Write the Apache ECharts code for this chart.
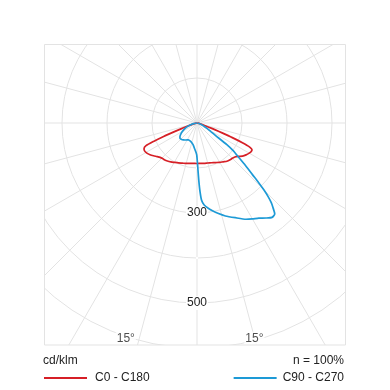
<!DOCTYPE html>
<html><head><meta charset="utf-8">
<script src="https://cdn.jsdelivr.net/npm/echarts@6/dist/echarts.min.js"></script>
<style>html,body{margin:0;padding:0;background:#fff}#c{width:390px;height:390px}</style>
</head><body><div id="c"></div>
<script>
// Luminous intensity distribution, gamma angle from nadir (negative = left half)
const redAngles = [-90,-85,-80,-76,-73,-71,-70,-69,-68,-67,-66,-64,-62,-59,-56,-53,-50,-47,-44,-41,-38,-34,-30,-25,-20,-15,-10,-5,0,5,10,15,20,25,30,34,38,42,45,48,51,54,57,60,62,64,65.5,66.5,67.5,68.5,69.5,70.5,72,75,80,85,90];
const redValues = [0,0.5,2,6,14,26,38,55,80,105,124,131,132,130,126,121,116,112,110,109,107,104,101,98,95,93,91,90,90,90,91,92,94,97,101,104,108,110,111,113,118,125,130,134,136,136,128,110,85,60,42,28,16,7,2,0.5,0];
const blueAngles = [-90,-80,-76,-70,-66,-61,-57,-52,-48,-43,-39,-33,-27,-20,-14,-9.5,-5,-2,-0.5,0.5,1.2,1.8,2.5,3.4,5,7.5,10,13,17,22,27,30,33,36,38.5,40.5,42,43,44,45,46,47,49,51,52.5,54,56,58,61,65,70,75,80,85,90];
const blueValues = [0,8,12,22,29,36,42,48,51,50,48,45,42,43,46,50,58,65,71,85,105,128,152,172,183,191,198,206,216,227,240,246,252,261,268,266,252,242,228,210,190,169,140,115,102,82,50,37,27,18,10,6,3,1,0];
const seriesNames = ['C0 - C180', 'C90 - C270'];
const seriesColors = ['#d61f26', '#1d9ad6'];
const ringLabels = ['', '', '300', '', '500', '', ''];
const angleMarkAngles = [-18.3, 14.9];
const angleMarkRadii = [504, 496];
const angleMarkTexts = ['15°', '15°'];
const unitText = 'cd/klm';
const effText = 'n = 100%';

const toPolar = (angs, vals) => angs.map((a, i) => [vals[i], (a + 360) % 360]);
const gridColor = '#e3e3e3';
const font = 'Liberation Sans, Arial, sans-serif';

const chart = echarts.init(document.getElementById('c'), null, {renderer: 'canvas'});
chart.setOption({
  animation: false,
  polar: {center: [197, 123], radius: 270},
  angleAxis: {
    type: 'value', min: 0, max: 360, interval: 15, startAngle: 270, clockwise: false,
    axisLine: {show: false}, axisTick: {show: false}, axisLabel: {show: false},
    splitLine: {show: true, lineStyle: {color: gridColor, width: 1}}, z: 0
  },
  radiusAxis: {
    type: 'value', min: 0, max: 600, interval: 100, z: 1,
    axisLine: {show: false}, axisTick: {show: false},
    splitLine: {show: true, lineStyle: {color: gridColor, width: 1}},
    axisLabel: {
      show: true, margin: 0, align: 'center', verticalAlign: 'middle', rotate: 0,
      fontSize: 12, fontFamily: font, color: '#222', backgroundColor: '#fff', padding: [1, 1],
      formatter: (v) => ringLabels[Math.round(v / 100)] || ''
    }
  },
  title: [
    {text: unitText, left: 43, top: 355, textStyle: {fontSize: 12, fontWeight: 'normal', fontFamily: font, color: '#222'}, padding: 0},
    {text: effText, right: 46, top: 355, textStyle: {fontSize: 12, fontWeight: 'normal', fontFamily: font, color: '#222'}, padding: 0}
  ],
  legend: [
    {data: [seriesNames[0]], left: 44, top: 372, padding: 0, icon: 'rect', itemWidth: 43, itemHeight: 2, z: 10,
     textStyle: {fontSize: 12, fontFamily: font, color: '#222', padding: [0, 0, 0, 3]}},
    {data: [seriesNames[1]], right: 46, top: 372, padding: 0, icon: 'rect', itemWidth: 43, itemHeight: 2, z: 10,
     textStyle: {fontSize: 12, fontFamily: font, color: '#222', padding: [0, 0, 0, 1]}}
  ],
  graphic: [
    {type: 'rect', z: 5, shape: {x: 0, y: 0, width: 390, height: 44}, style: {fill: '#fff'}, silent: true},
    {type: 'rect', z: 5, shape: {x: 0, y: 345, width: 390, height: 45}, style: {fill: '#fff'}, silent: true},
    {type: 'rect', z: 5, shape: {x: 0, y: 0, width: 44, height: 390}, style: {fill: '#fff'}, silent: true},
    {type: 'rect', z: 5, shape: {x: 346, y: 0, width: 44, height: 390}, style: {fill: '#fff'}, silent: true},
    {type: 'rect', z: 6, shape: {x: 44.5, y: 44.5, width: 301, height: 300.5}, style: {fill: 'none', stroke: gridColor, lineWidth: 1}, silent: true}
  ],
  series: [
    {name: seriesNames[0], type: 'line', coordinateSystem: 'polar', data: toPolar(redAngles, redValues),
     symbol: 'none', smooth: 0.2, color: seriesColors[0], lineStyle: {width: 1.7, color: seriesColors[0]}, itemStyle: {color: seriesColors[0]}, z: 3},
    {name: seriesNames[1], type: 'line', coordinateSystem: 'polar', data: toPolar(blueAngles, blueValues),
     symbol: 'none', smooth: 0.2, color: seriesColors[1], lineStyle: {width: 1.7, color: seriesColors[1]}, itemStyle: {color: seriesColors[1]}, z: 3},
    {type: 'scatter', coordinateSystem: 'polar', symbolSize: 0, silent: true, z: 4,
     data: angleMarkAngles.map((a, i) => ({value: [angleMarkRadii[i], (a + 360) % 360], label: {formatter: angleMarkTexts[i]}})),
     label: {show: true, position: 'inside', fontSize: 12, fontFamily: font, color: '#222', backgroundColor: '#fff', padding: [1, 1]}}
  ]
});
</script></body></html>
